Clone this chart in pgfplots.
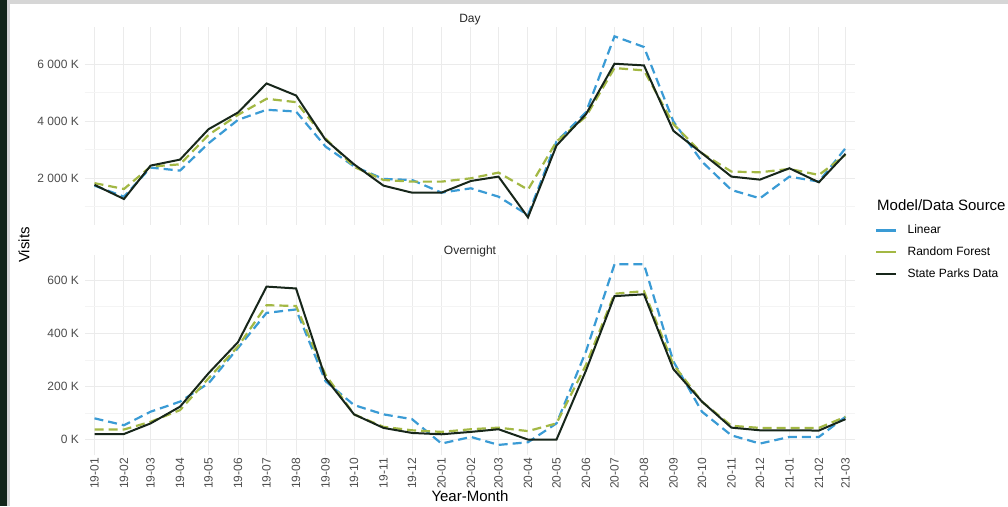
\documentclass[border=0pt]{standalone}
\usepackage{fontspec}
\setmainfont{Liberation Sans}
\usepackage{pgfplots}
\pgfplotsset{compat=1.18}
\usepackage{pgfplotstable}

\definecolor{linblue}{HTML}{3A9BD5}
\definecolor{rfgreen}{HTML}{A3B844}
\definecolor{spdark}{HTML}{17261A}
\definecolor{gridmaj}{HTML}{EBEBEB}
\definecolor{gridmin}{HTML}{F4F4F4}
\definecolor{ticktxt}{HTML}{4D4D4D}
\definecolor{frameDark}{HTML}{13261A}
\definecolor{frameLight}{HTML}{D6D6D6}

% day number since 2019-01-01, Linear, Random Forest, State Parks Data (thousands)
\pgfplotstableread{
d   lin   rf    sp
0   1742  1830  1770
31  1355  1625  1273
59  2375  2410  2445
90  2270  2490  2656
120 3230  3524  3723
151 4051  4227  4309
181 4403  4790  5328
212 4344  4672  4906
243 3113  3400  3350
273 2420  2400  2490
304 1977  1941  1742
334 1941  1883  1496
365 1496  1883  1496
396 1648  2000  1906
425 1355  2200  2059
456 711   1600  629
486 3290  3290  3149
517 4320  4168  4250
547 6981  5868  6020
578 6607  5786  5961
609 3992  3900  3664
639 2586  2880  2879
670 1590  2234  2059
700 1297  2211  1953
731 2059  2328  2352
762 1883  2117  1859
790 3055  2820  2856
}\daytab

\pgfplotstableread{
d   lin   rf    sp
0   80    38    21
31  54    38    21
59  105   67    61
90  143   111   124
120 212   231   250
151 345   351   367
181 477   506   576
212 490   503   569
243 220   244   231
273 130   95    95
304 95    48    44
334 77    35    25
365 -15   29    20
396 10    39    29
425 -20   45    39
456 -10   32    0
486 61    61    0
517 332   281   260
547 660   549   540
578 660   559   547
609 294   282   265
639 105   143   143
670 16    52    45
700 -15   44    35
731 10    44    35
762 10    44    34
790 86    86    77
}\nighttab

\pgfplotsset{
  panel/.style={
    scale only axis,
    width=770pt,
    xmin=-10, xmax=800,
    axis line style={draw=none},
    major tick length=0pt,
    minor tick length=0pt,
    xtick={0,31,59,90,120,151,181,212,243,273,304,334,365,396,425,456,486,517,547,578,609,639,670,700,731,762,790},
    xmajorgrids, ymajorgrids, yminorgrids,
    major grid style={gridmaj, line width=1pt},
    minor grid style={gridmin, line width=0.6pt},
    ticklabel style={font=\fontsize{12}{14}\selectfont, text=ticktxt},
    yticklabel style={inner sep=0pt, xshift=-6pt},
    title style={font=\fontsize{12}{14}\selectfont, text=black!85, anchor=base, at={(0.5,1)}, yshift=-2pt},
  },
  linstyle/.style={linblue, line width=2.2pt, dash pattern=on 9pt off 5pt},
  rfstyle/.style={rfgreen, line width=2.2pt, dash pattern=on 9pt off 5pt},
  spstyle/.style={spdark, line width=2pt},
}

\begin{document}
\begin{tikzpicture}
\path[use as bounding box] (0,0) rectangle (1008pt,506pt);
\fill[white] (0,0) rectangle (1008pt,506pt);
\fill[frameDark] (0,0) rectangle (7pt,506pt);
\fill[frameLight] (7pt,0) rectangle (10pt,506pt);
\fill[frameLight] (7pt,502pt) rectangle (1008pt,506pt);

% Day panel
\begin{axis}[panel,
  at={(85pt,281pt)}, anchor=south west,
  height=198pt,
  ymin=361, ymax=7309,
  ytick={2000,4000,6000},
  yticklabels={2 000 K,4 000 K,6 000 K},
  minor ytick={1000,3000,5000},
  xticklabels={},
  title={Day},
  legend image code/.code={\draw[#1] (0pt,0pt) -- (20pt,0pt);},
  legend style={at={(1.026,0.01)}, anchor=north west, draw=none, fill=none,
    font=\fontsize{12}{14}\selectfont, inner sep=0pt, row sep=7.5pt,
    nodes={inner sep=2pt}, column sep=8pt},
  legend cell align=left,
]
\addlegendimage{linblue, line width=2.4pt}
\addlegendentry{Linear}
\addlegendimage{rfgreen, line width=2.4pt}
\addlegendentry{Random Forest}
\addlegendimage{spdark, line width=2.4pt}
\addlegendentry{State Parks Data}
\addplot[linstyle, forget plot] table[x=d, y=lin] {\daytab};
\addplot[rfstyle, forget plot] table[x=d, y=rf] {\daytab};
\addplot[spstyle, forget plot] table[x=d, y=sp] {\daytab};
\end{axis}

% Overnight panel
\begin{axis}[panel,
  at={(85pt,51pt)}, anchor=south west,
  height=200pt,
  ymin=-58, ymax=695,
  ytick={0,200,400,600},
  yticklabels={0 K,200 K,400 K,600 K},
  minor ytick={100,300,500},
  xticklabels={19-01,19-02,19-03,19-04,19-05,19-06,19-07,19-08,19-09,19-10,19-11,19-12,20-01,20-02,20-03,20-04,20-05,20-06,20-07,20-08,20-09,20-10,20-11,20-12,21-01,21-02,21-03},
  xticklabel style={rotate=90, anchor=east, inner sep=3pt},
  title={Overnight},
  title style={yshift=-3.5pt},
]
\addplot[linstyle] table[x=d, y=lin] {\nighttab};
\addplot[rfstyle] table[x=d, y=rf] {\nighttab};
\addplot[spstyle] table[x=d, y=sp] {\nighttab};
\end{axis}

\node[rotate=90, font=\fontsize{15}{18}\selectfont] at (24pt,261pt) {Visits};
\node[font=\fontsize{15}{18}\selectfont] at (470pt,10pt) {Year-Month};
\node[anchor=west, font=\fontsize{15}{18}\selectfont, inner sep=0pt] at (877pt,301pt) {Model/Data Source};
\end{tikzpicture}
\end{document}
